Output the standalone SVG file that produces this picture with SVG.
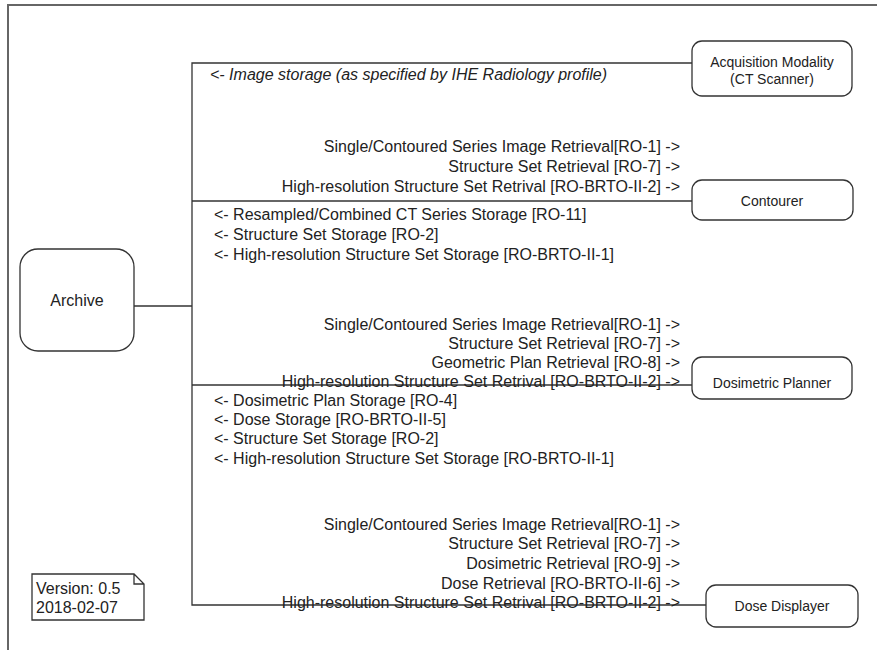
<svg xmlns="http://www.w3.org/2000/svg" width="877" height="650" viewBox="0 0 877 650">
<style>
.frame{fill:none;stroke:#666;stroke-width:2}
.node{fill:#fff;stroke:#333;stroke-width:1.3}
.conn{fill:none;stroke:#333;stroke-width:1.3}
.lbl{font-family:"Liberation Sans",Arial,sans-serif;font-size:16px;fill:#222}
.r{text-anchor:end}
.it{font-style:italic}
.nt{font-family:"Liberation Sans",Arial,sans-serif;font-size:14px;fill:#222;text-anchor:middle}
</style>
<rect width="877" height="650" fill="#fff"/>
<path class="frame" d="M8,652 L8,5 L880,5"/>
<g id="connectors">
<path class="conn" d="M692,63 L192,63 L192,605 L706,605"/>
<path class="conn" d="M134,306 L192,306"/>
<path class="conn" d="M192,201 L692,201"/>
<path class="conn" d="M192,385 L692,385"/>
</g>
<g id="labels">
<text class="lbl it" x="210" y="80">&lt;- Image storage (as specified by IHE Radiology profile)</text>
<text class="lbl r" x="680" y="152">Single/Contoured Series Image Retrieval[RO-1] -&gt;</text>
<text class="lbl r" x="680" y="172">Structure Set Retrieval [RO-7] -&gt;</text>
<text class="lbl r" x="680" y="192">High-resolution Structure Set Retrival [RO-BRTO-II-2] -&gt;</text>
<text class="lbl" x="214" y="220">&lt;- Resampled/Combined CT Series Storage [RO-11]</text>
<text class="lbl" x="214" y="240">&lt;- Structure Set Storage [RO-2]</text>
<text class="lbl" x="214" y="260">&lt;- High-resolution Structure Set Storage [RO-BRTO-II-1]</text>
<text class="lbl r" x="680" y="330">Single/Contoured Series Image Retrieval[RO-1] -&gt;</text>
<text class="lbl r" x="680" y="349">Structure Set Retrieval [RO-7] -&gt;</text>
<text class="lbl r" x="680" y="368">Geometric Plan Retrieval [RO-8] -&gt;</text>
<text class="lbl r" x="680" y="387">High-resolution Structure Set Retrival [RO-BRTO-II-2] -&gt;</text>
<text class="lbl" x="214" y="406">&lt;- Dosimetric Plan Storage [RO-4]</text>
<text class="lbl" x="214" y="425">&lt;- Dose Storage [RO-BRTO-II-5]</text>
<text class="lbl" x="214" y="444">&lt;- Structure Set Storage [RO-2]</text>
<text class="lbl" x="214" y="464">&lt;- High-resolution Structure Set Storage [RO-BRTO-II-1]</text>
<text class="lbl r" x="680" y="530">Single/Contoured Series Image Retrieval[RO-1] -&gt;</text>
<text class="lbl r" x="680" y="549">Structure Set Retrieval [RO-7] -&gt;</text>
<text class="lbl r" x="680" y="569">Dosimetric Retrieval [RO-9] -&gt;</text>
<text class="lbl r" x="680" y="589">Dose Retrieval [RO-BRTO-II-6] -&gt;</text>
<text class="lbl r" x="680" y="608">High-resolution Structure Set Retrival [RO-BRTO-II-2] -&gt;</text>
</g>
<g id="acquisition">
<rect class="node" x="692" y="41" width="160" height="55" rx="10"/>
<text class="nt" x="772" y="67">Acquisition Modality</text>
<text class="nt" x="772" y="84">(CT Scanner)</text>
</g>
<g id="contourer">
<rect class="node" x="692" y="180" width="161" height="40" rx="10"/>
<text class="nt" x="772" y="206">Contourer</text>
</g>
<g id="archive">
<rect class="node" x="20" y="249" width="114" height="102" rx="18"/>
<text class="nt" x="77" y="306" style="font-size:16px">Archive</text>
</g>
<g id="planner">
<rect class="node" x="692" y="357" width="160" height="42" rx="10"/>
<text class="nt" x="772" y="388">Dosimetric Planner</text>
</g>
<g id="displayer">
<rect class="node" x="706" y="585" width="152" height="42" rx="10"/>
<text class="nt" x="782" y="611">Dose Displayer</text>
</g>
<g id="version">
<path class="node" d="M32,574 L134,574 L144,584 L144,620 L32,620 Z M134,574 L134,584 L144,584"/>
<text class="lbl" x="36" y="594">Version: 0.5</text>
<text class="lbl" x="36" y="613">2018-02-07</text>
</g>
</svg>
